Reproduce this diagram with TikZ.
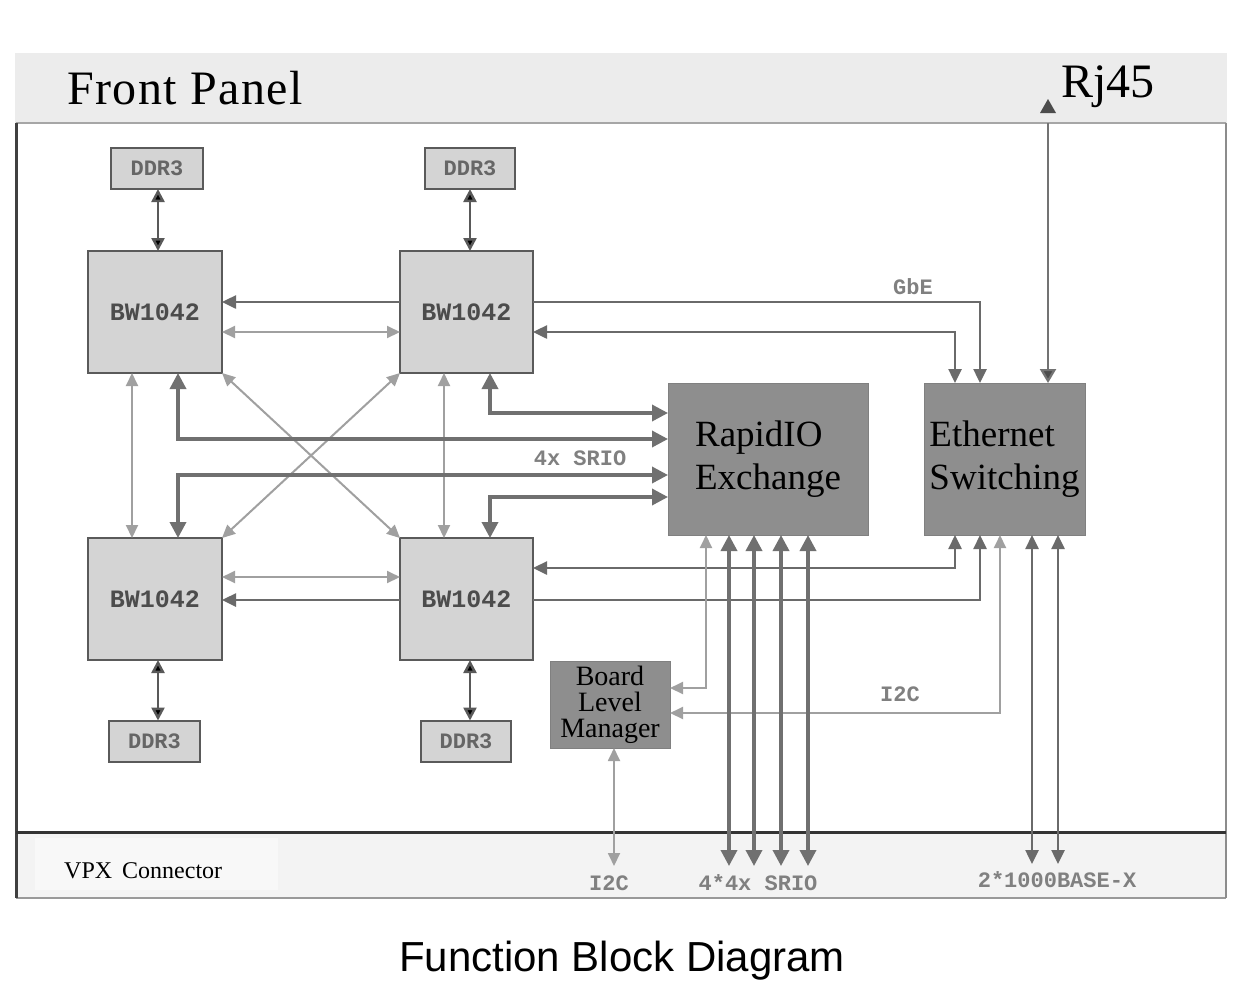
\documentclass[tikz,border=0pt]{standalone}
\usepackage{fontspec}
\setmainfont{Liberation Serif}
\newfontfamily\monof{Liberation Mono}
\newfontfamily\sansf{Liberation Sans}
\usetikzlibrary{arrows.meta}
\definecolor{hdr}{HTML}{ECECEC}
\definecolor{vpx}{HTML}{F3F3F3}
\definecolor{chipfill}{HTML}{D4D4D4}
\definecolor{chipline}{HTML}{5A5A5A}
\definecolor{darkbox}{HTML}{8E8E8E}
\definecolor{cthk}{HTML}{707070}
\definecolor{cmed}{HTML}{6A6A6A}
\definecolor{cthn}{HTML}{A0A0A0}
\definecolor{clab}{HTML}{808080}
\begin{document}
\begin{tikzpicture}[x=1pt,y=-1pt,
  chip/.style={draw=chipline,line width=2pt,fill=chipfill,inner sep=0pt,outer sep=0pt,
    font=\monof\bfseries\fontsize{25}{25}\selectfont,text=black!70},
  ddr/.style={chip,font=\monof\bfseries\fontsize{22}{22}\selectfont,text=black!60,minimum height=41pt},
  bigbox/.style={fill=darkbox,draw=darkbox!90!black,line width=0.8pt,inner sep=0pt,outer sep=0pt,
    font=\fontsize{37}{43}\selectfont,align=left},
  lab/.style={font=\monof\bfseries\fontsize{22}{22}\selectfont,text=clab,inner sep=0pt},
  thk/.style={line width=3.5pt,draw=cthk,>={Triangle[length=16pt,width=16pt]}},
  med/.style={line width=2.5pt,draw=cmed,>={Triangle[length=14pt,width=13pt]}},
  thn/.style={line width=2pt,draw=cthn,>={Triangle[length=13pt,width=12pt]}},
  mem/.style={line width=2.5pt,draw=black!65,>={Triangle[length=13pt,width=13pt,fill=black]}},
  rjs/.style={line width=2.2pt,draw=black!55,>={Triangle[length=14pt,width=16pt,fill=black!70]}}]
\useasboundingbox (0,0) rectangle (1236,994);
% panels
\fill[white] (0,0) rectangle (1236,994);
\fill[hdr] (15,53) rectangle (1227,123);
\draw[black!35,line width=1.2pt] (16,123) -- (1226,123);
\fill[vpx] (17,833) rectangle (1226,898);
\fill[white!40!vpx] (35,838) rectangle (278,890);
\draw[black!40,line width=1.5pt] (16,898) -- (1226,898);
\draw[black!45,line width=1.5pt] (1226,123) -- (1226,898);
\draw[black!75,line width=3pt] (16,123) -- (16,898);
\draw[black!80,line width=3pt] (16,832) -- (1226,832);
\node[anchor=base west,inner sep=0pt,font=\addfontfeatures{LetterSpace=3}\fontsize{48}{48}\selectfont] (fp) at (67,104) {Front Panel};
\node[anchor=base west,inner sep=0pt,font=\fontsize{48}{48}\selectfont] (rj) at (1061,97) {Rj45};
\node[anchor=base west,inner sep=0pt,font=\fontsize{24}{24}\selectfont] (vpxl) at (64,878) {VPX\, Connector};
\node[anchor=base,inner sep=0pt,font=\sansf\fontsize{42}{42}\selectfont] (title) at (622,971) {Function Block Diagram};
% chips
\node[chip,minimum width=134pt,minimum height=122pt] (tl) at (155,312) {BW1042};
\node[chip,minimum width=133pt,minimum height=122pt] (tr) at (466.5,312) {BW1042};
\node[chip,minimum width=134pt,minimum height=122pt] (bl) at (155,599) {BW1042};
\node[chip,minimum width=133pt,minimum height=122pt] (br) at (466.5,599) {BW1042};
\node[ddr,minimum width=92pt] (dtl) at (157,168.5) {DDR3};
\node[ddr,minimum width=90pt] (dtr) at (470,168.5) {DDR3};
\node[ddr,minimum width=91pt] (dbl) at (154.5,741) {DDR3};
\node[ddr,minimum width=90pt] (dbr) at (466,741) {DDR3};
\node[bigbox,minimum width=200pt,minimum height=152pt] (rio) at (768,459) {RapidIO\\Exchange};
\node[bigbox,minimum width=161pt,minimum height=152pt] (eth) at (1004.5,459) {Ethernet\\Switching};
\node[bigbox,minimum width=120pt,minimum height=87pt,align=center,font=\fontsize{28}{26}\selectfont] (blm) at (610,704.5) {Board\\Level\\Manager};
% free ends in the VPX band
\coordinate (ri2c) at (614,866);
\coordinate (s1) at (729,866);
\coordinate (s2) at (754,866);
\coordinate (s3) at (781,866);
\coordinate (s4) at (808,866);
\coordinate (g1) at (1032,864);
\coordinate (g2) at (1058,864);
\coordinate (rjp) at (1048,123);
\coordinate (rjt) at (1048,99);
% memory links
\draw[mem,<->] (dtl.south -| 158,0) -- (tl.north -| 158,0);
\draw[mem,<->] (dtr.south -| 470,0) -- (tr.north -| 470,0);
\draw[mem,<->] (bl.south -| 158,0) -- (dbl.north -| 158,0);
\draw[mem,<->] (br.south -| 470,0) -- (dbr.north -| 470,0);
% chip to chip
\draw[med,->] (tr.west |- 0,302) -- (tl.east |- 0,302);
\draw[thn,<->] (tl.east |- 0,332) -- (tr.west |- 0,332);
\draw[thn,<->] (bl.east |- 0,577) -- (br.west |- 0,577);
\draw[med,->] (br.west |- 0,600) -- (bl.east |- 0,600);
\draw[thn,<->] (tl.south -| 132,0) -- (bl.north -| 132,0);
\draw[thn,<->] (tr.south -| 444,0) -- (br.north -| 444,0);
\draw[thn,<->] (tl.south east) -- (br.north west);
\draw[thn,<->] (tr.south west) -- (bl.north east);
% SRIO to RapidIO
\draw[thk,<->] (tr.south -| 490,0) |- (rio.west |- 0,413);
\draw[thk,<->] (tl.south -| 178,0) |- (rio.west |- 0,439);
\draw[thk,<->] (bl.north -| 178,0) |- (rio.west |- 0,475);
\draw[thk,<->] (br.north -| 490,0) |- (rio.west |- 0,497);
\node[lab] (srio) at (580,458) {4x SRIO};
% GbE
\draw[med,->] (tr.east |- 0,302) -| (eth.north -| 980,0);
\draw[med,<->] (tr.east |- 0,332) -| (eth.north -| 955,0);
\node[lab] (gbe) at (913,287) {GbE};
\draw[med,<->] (br.east |- 0,568) -| (eth.south -| 955,0);
\draw[med,->] (br.east |- 0,600) -| (eth.south -| 980,0);
\draw[rjs,->] (rjp) -- (eth.north -| rjp);
\fill[black!70] (rjt) -- ++(-8,14) -- ++(16,0) -- cycle;
% I2C
\draw[thn,<->] (eth.south -| 1000,0) |- (blm.east |- 0,713);
\draw[thn,<->] (rio.south -| 706,0) |- (blm.east |- 0,688);
\node[lab] (i2c) at (900,694) {I2C};
\draw[thn,line width=1.8pt,<->] (blm.south -| ri2c) -- (ri2c);
% SRIO to VPX
\draw[thk,<->] (rio.south -| s1) -- (s1);
\draw[thk,<->] (rio.south -| s2) -- (s2);
\draw[thk,<->] (rio.south -| s3) -- (s3);
\draw[thk,<->] (rio.south -| s4) -- (s4);
\draw[med,<->] (eth.south -| g1) -- (g1);
\draw[med,<->] (eth.south -| g2) -- (g2);
% VPX labels
\node[lab] (l1) at (609,883) {I2C};
\node[lab] (l2) at (758,883) {4*4x SRIO};
\node[lab] (l3) at (1057,880) {2*1000BASE-X};
\end{tikzpicture}
\end{document}
